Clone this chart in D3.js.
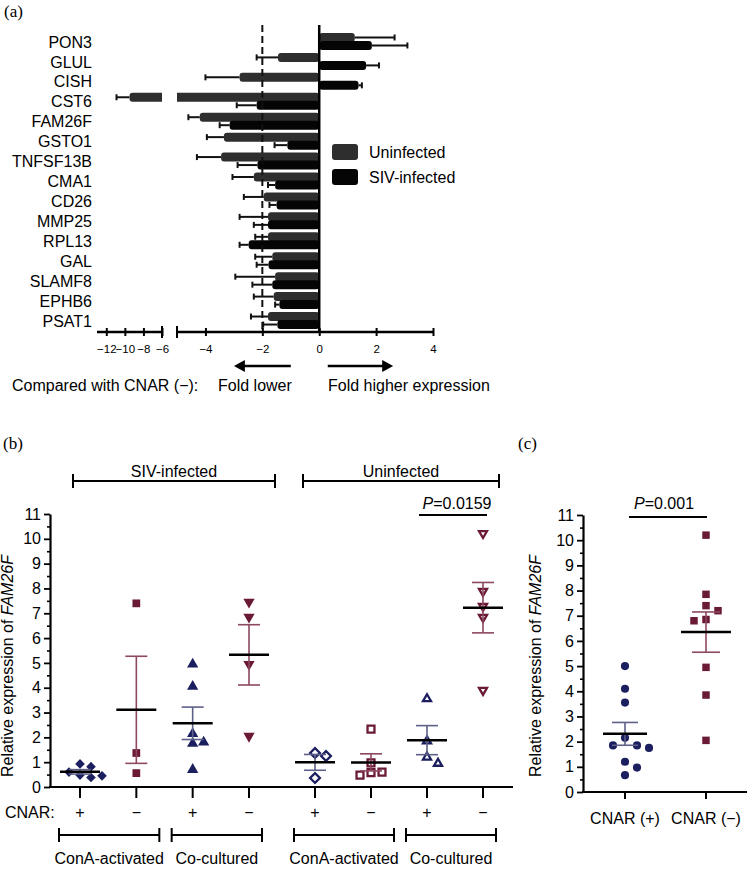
<!DOCTYPE html>
<html>
<head>
<meta charset="utf-8">
<script src="https://cdn.jsdelivr.net/npm/d3@7"></script>
<style>
  body { margin: 0; background: #fff; }
  svg { display: block; font-family: "Liberation Sans", Arial, Helvetica, sans-serif; }
</style>
</head>
<body>
<svg width="747" height="869"></svg>
<script>
// ---------- panel (a) data: fold change vs CNAR(-) ----------
var genes = ["PON3", "GLUL", "CISH", "CST6", "FAM26F", "GSTO1", "TNFSF13B", "CMA1",
             "CD26", "MMP25", "RPL13", "GAL", "SLAMF8", "EPHB6", "PSAT1"];
var uninfected    = [1.25, -1.45, -2.8, -9.5, -4.2, -3.35, -3.45, -2.3, -1.95, -1.8, -1.8, -1.65, -1.55, -1.6, -1.8];
var uninfectedErr = [1.4, 0.75, 1.2, 1.4, 0.4, 0.6, 0.85, 0.75, 0.7, 1.0, 0.45, 0.6, 1.4, 0.7, 0.6];
var sivInfected    = [1.85, 1.65, 1.38, -2.2, -3.15, -1.12, -2.17, -1.55, -1.5, -1.8, -2.48, -1.78, -1.65, -1.4, -1.47];
var sivInfectedErr = [1.25, 0.45, 0.12, 0.7, 0.35, 0.45, 0.7, 0.25, 0.25, 0.5, 0.32, 0.42, 0.7, 0.15, 0.5];
var axisTicksA = [-12, -10, -8, -6, -4, -2, 0, 2, 4];

// ---------- panel (b) data: relative expression of FAM26F ----------
var cnarSigns = ["+", "\u2212", "+", "\u2212", "+", "\u2212", "+", "\u2212"];
var groupValues = [
  [0.93, 0.82, 0.6, 0.48, 0.45, 0.38],       // SIV, ConA +
  [7.4, 1.37, 0.56],                         // SIV, ConA -
  [4.95, 4.05, 2.15, 1.8, 1.75, 0.7],        // SIV, co-cultured +
  [7.45, 6.85, 4.95, 2.05],                  // SIV, co-cultured -
  [1.37, 1.25, 0.36],                        // Uninf, ConA +
  [2.33, 0.97, 0.6, 0.58, 0.48],             // Uninf, ConA -
  [3.55, 1.85, 1.2, 0.95],                   // Uninf, co-cultured +
  [10.22, 7.89, 7.28, 6.84, 3.9]             // Uninf, co-cultured -
];
var infectionLabels = ["SIV-infected", "Uninfected"];
var cultureLabels = ["ConA-activated", "Co-cultured", "ConA-activated", "Co-cultured"];
var pValueB = "0.0159";

// ---------- panel (c) data ----------
var cnarCategories = ["CNAR (+)", "CNAR (\u2212)"];
var cnarPos = [5.0, 4.1, 3.55, 2.15, 1.85, 1.75, 1.85, 1.2, 0.97, 0.67];
var cnarNeg = [10.2, 7.85, 7.4, 7.2, 6.85, 6.8, 4.95, 3.85, 2.05];
var pValueC = "0.001";

var NAVY = "#1c1f5f", MAROON = "#6b1a35";
var NAVY_SEM = "#5d6088", MAROON_SEM = "#8d4862";
var svg = d3.select("svg");

function panelLetter(x, y, t) {
  svg.append("text").attr("x", x).attr("y", y).text(t)
    .attr("font-family", "'Liberation Serif', 'DejaVu Serif', serif").attr("font-size", 17);
}

// =================== panel (a) ===================
panelLetter(4, 17, "(a)");
var xA = d3.scaleLinear().domain([-13, -6, -5, 4]).range([97, 162, 177, 433]);
var yA = d3.scaleBand().domain(genes).range([32, 331]);
var gA = svg.append("g");

var rowsA = genes.map(function (g, i) {
  return [
    { gene: g, v: uninfected[i], e: uninfectedErr[i], off: -9, fill: "#2e2e2e" },
    { gene: g, v: sivInfected[i], e: sivInfectedErr[i], off: -1, fill: "#050505" }
  ];
});
var barsA = d3.merge([rowsA.map(function (r) { return r[0]; }), rowsA.map(function (r) { return r[1]; })]);

// error bars first, bars on top
gA.selectAll("g.err").data(barsA).join("g").attr("class", "err")
  .each(function (d) {
    var cy = yA(d.gene) + yA.bandwidth() / 2 + d.off + 4.5;
    var end = d.v + (d.v < 0 ? -d.e : d.e);
    var g = d3.select(this);
    g.append("line").attr("x1", xA(d.v)).attr("x2", xA(end)).attr("y1", cy).attr("y2", cy)
      .attr("stroke", "#111").attr("stroke-width", 2);
    g.append("line").attr("x1", xA(end)).attr("x2", xA(end)).attr("y1", cy - 3).attr("y2", cy + 3)
      .attr("stroke", "#111").attr("stroke-width", 2);
  });

gA.selectAll("rect.bar").data(barsA).join("rect").attr("class", "bar")
  .attr("x", function (d) { return Math.min(xA(0), xA(d.v)); })
  .attr("width", function (d) { return Math.abs(xA(d.v) - xA(0)); })
  .attr("y", function (d) { return yA(d.gene) + yA.bandwidth() / 2 + d.off; })
  .attr("height", 9).attr("rx", 3)
  .attr("fill", function (d) { return d.fill; });

// axis break gap
gA.append("rect").attr("x", xA(-6)).attr("width", xA(-5) - xA(-6))
  .attr("y", 25).attr("height", 320).attr("fill", "#fff");

// reference lines
gA.append("line").attr("x1", xA(-2)).attr("x2", xA(-2)).attr("y1", 25).attr("y2", 332)
  .attr("stroke", "#111").attr("stroke-width", 2).attr("stroke-dasharray", "7,4");
gA.append("line").attr("x1", xA(0)).attr("x2", xA(0)).attr("y1", 25).attr("y2", 332)
  .attr("stroke", "#000").attr("stroke-width", 2.5);

// gene labels
gA.selectAll("text.gene").data(genes).join("text").attr("class", "gene")
  .attr("x", 92).attr("y", function (d) { return yA(d) + yA.bandwidth() / 2; })
  .attr("dy", "0.35em").attr("text-anchor", "end").attr("font-size", 16).text(function (d) { return d; });

// x axis with break
var axA = gA.append("g").attr("transform", "translate(0,332)")
  .call(d3.axisBottom(xA).tickValues(axisTicksA).tickSize(4).tickPadding(9))
  .call(function (g) { g.select(".domain").remove(); })
  .call(function (g) { g.selectAll(".tick line").attr("y1", -4).attr("stroke-width", 2); })
  .call(function (g) { g.selectAll(".tick text").attr("font-size", 11.5).attr("font-family", "'Liberation Sans', Arial, sans-serif"); });
[[-13, -6], [-5, 4]].forEach(function (s) {
  axA.append("line").attr("x1", xA(s[0])).attr("x2", xA(s[1])).attr("stroke", "#000").attr("stroke-width", 2.5);
});
[-6, -5].forEach(function (v) {
  axA.append("line").attr("x1", xA(v)).attr("x2", xA(v)).attr("y1", -6).attr("y2", 6).attr("stroke", "#000").attr("stroke-width", 2);
});

// legend
var legA = [["Uninfected", "#2e2e2e"], ["SIV-infected", "#050505"]];
legA.forEach(function (l, i) {
  gA.append("rect").attr("x", 332).attr("y", 144 + i * 25).attr("width", 26).attr("height", 16)
    .attr("rx", 3).attr("fill", l[1]);
  gA.append("text").attr("x", 369).attr("y", 152 + i * 25).attr("dy", "0.35em")
    .attr("font-size", 16).text(l[0]);
});

// arrows + caption
function arrow(x1, x2, y) {
  var dir = x2 > x1 ? 1 : -1;
  gA.append("line").attr("x1", x1).attr("x2", x2 - dir * 8).attr("y1", y).attr("y2", y)
    .attr("stroke", "#000").attr("stroke-width", 2.5);
  gA.append("path").attr("d", "M" + x2 + "," + y + "L" + (x2 - dir * 11) + "," + (y - 6) + "L" + (x2 - dir * 11) + "," + (y + 6) + "Z");
}
arrow(xA(-1), xA(-3), 366);
arrow(xA(0.3), xA(2.6), 366);
gA.append("text").attr("x", 12).attr("y", 391).attr("font-size", 16).text("Compared with CNAR (\u2212):");
gA.append("text").attr("x", 218).attr("y", 391).attr("font-size", 16).text("Fold lower");
gA.append("text").attr("x", 328).attr("y", 391).attr("font-size", 16).text("Fold higher expression");

// =================== shared helpers for (b) and (c) ===================
function symbolPath(shape, size) {
  var t = shape === "square" ? d3.symbolSquare : shape === "circle" ? d3.symbolCircle :
          shape === "diamond" ? d3.symbolSquare : d3.symbolTriangle;
  return d3.symbol(t, size)();
}
function symbolRotate(shape) {
  return shape === "diamond" ? 45 : shape === "triangleDown" ? 180 : 0;
}
// simple deterministic beeswarm offsets
function swarm(vals, y, step) {
  var out = new Array(vals.length), placed = [];
  var order = vals.map(function (v, i) { return i; }).sort(function (a, b) { return vals[b] - vals[a]; });
  order.forEach(function (i) {
    var py = y(vals[i]);
    var cands = [0, 1, -1, 2, -2, 3, -3];
    for (var k = 0; k < cands.length; k++) {
      var dx = cands[k] * step;
      var ok = placed.every(function (p) { return Math.abs(p.dx - dx) >= step * 0.9 || Math.abs(p.y - py) >= step * 0.85; });
      if (ok) { out[i] = dx; placed.push({ dx: dx, y: py }); break; }
    }
  });
  return out;
}
function drawGroup(g, vals, cx, y, st, step, meanHalf, capHalf) {
  var offs = swarm(vals, y, step);
  g.selectAll(null).data(vals).join("path")
    .attr("d", symbolPath(st.shape, st.size))
    .attr("transform", function (d, i) {
      return "translate(" + (cx + offs[i]) + "," + y(d) + ") rotate(" + symbolRotate(st.shape) + ")";
    })
    .attr("fill", st.open ? "#fff" : st.color)
    .attr("stroke", st.open ? st.color : "none")
    .attr("stroke-width", st.open ? 2.3 : 0);
  var m = d3.mean(vals), sem = d3.deviation(vals) / Math.sqrt(vals.length);
  var semCol = st.color === NAVY ? NAVY_SEM : MAROON_SEM;
  g.append("line").attr("x1", cx).attr("x2", cx).attr("y1", y(m - sem)).attr("y2", y(m + sem))
    .attr("stroke", semCol).attr("stroke-width", 1.6);
  [m - sem, m + sem].forEach(function (v) {
    g.append("line").attr("x1", cx - capHalf).attr("x2", cx + capHalf).attr("y1", y(v)).attr("y2", y(v))
      .attr("stroke", semCol).attr("stroke-width", 1.6);
  });
  g.append("line").attr("x1", cx - meanHalf).attr("x2", cx + meanHalf).attr("y1", y(m)).attr("y2", y(m))
    .attr("stroke", "#000").attr("stroke-width", 2.5);
}
function yAxis(g, y, x) {
  var ax = g.append("g").attr("transform", "translate(" + x + ",0)");
  ax.append("g").call(d3.axisLeft(y).tickValues(d3.range(0.5, 11, 1)).tickSize(3).tickFormat("").tickSizeOuter(0))
    .call(function (s) { s.select(".domain").remove(); s.selectAll(".tick line").attr("stroke-width", 1.6); });
  ax.append("g").call(d3.axisLeft(y).tickValues(d3.range(0, 12)).tickSize(6).tickPadding(3).tickSizeOuter(0))
    .call(function (s) {
      s.select(".domain").attr("stroke-width", 2.2);
      s.selectAll(".tick line").attr("stroke-width", 1.8);
      s.selectAll(".tick text").attr("font-size", 16).attr("font-family", "'Liberation Sans', Arial, sans-serif").attr("fill", "#000");
    });
}
function yTitle(g, x, y) {
  var t = g.append("text").attr("transform", "translate(" + x + "," + y + ") rotate(-90)")
    .attr("text-anchor", "middle").attr("font-size", 16);
  t.append("tspan").text("Relative expression of ");
  t.append("tspan").attr("font-style", "italic").text("FAM26F");
}
function pLabel(g, cx, y, p) {
  var t = g.append("text").attr("x", cx).attr("y", y).attr("text-anchor", "middle").attr("font-size", 16);
  t.append("tspan").attr("font-style", "italic").text("P");
  t.append("tspan").text("=" + p);
}
function bracket(g, x1, x2, y) {
  g.append("line").attr("x1", x1).attr("x2", x2).attr("y1", y).attr("y2", y).attr("stroke", "#000").attr("stroke-width", 2);
  [x1, x2].forEach(function (x) {
    g.append("line").attr("x1", x).attr("x2", x).attr("y1", y - 7).attr("y2", y + 7).attr("stroke", "#000").attr("stroke-width", 2);
  });
}

// =================== panel (b) ===================
panelLetter(3, 449, "(b)");
var gB = svg.append("g");
var xB = d3.scaleLinear().domain([0, 3, 4, 7]).range([80, 249, 315, 483]);
var yB = d3.scaleLinear().domain([0, 11]).range([787, 514]);
var stylesB = [
  { shape: "diamond", size: 46, color: NAVY, open: false },
  { shape: "square", size: 60, color: MAROON, open: false },
  { shape: "triangle", size: 55, color: NAVY, open: false },
  { shape: "triangleDown", size: 55, color: MAROON, open: false },
  { shape: "diamond", size: 48, color: NAVY, open: true },
  { shape: "square", size: 48, color: MAROON, open: true },
  { shape: "triangle", size: 28, color: NAVY, open: true },
  { shape: "triangleDown", size: 28, color: MAROON, open: true }
];
groupValues.forEach(function (vals, i) {
  drawGroup(gB.append("g"), vals, xB(i), yB, stylesB[i], 11, 20, 11);
});
yAxis(gB, yB, 50);
gB.append("line").attr("x1", 49).attr("x2", 513).attr("y1", yB(0)).attr("y2", yB(0))
  .attr("stroke", "#000").attr("stroke-width", 2.2);
cnarSigns.forEach(function (s, i) {
  gB.append("line").attr("x1", xB(i)).attr("x2", xB(i)).attr("y1", yB(0)).attr("y2", yB(0) + 11)
    .attr("stroke", "#000").attr("stroke-width", 2);
  gB.append("text").attr("x", xB(i)).attr("y", 812).attr("dy", "0.35em").attr("text-anchor", "middle")
    .attr("font-size", 16).text(s);
});
gB.append("text").attr("x", 5).attr("y", 812).attr("dy", "0.35em").attr("font-size", 16).text("CNAR:");
yTitle(gB, 13, 666);

// top brackets: infection status
[[xB(0) - 7, xB(3) + 26], [xB(4) - 12, xB(7) + 16]].forEach(function (b, i) {
  bracket(gB, b[0], b[1], 481);
  gB.append("text").attr("x", (b[0] + b[1]) / 2).attr("y", 477).attr("text-anchor", "middle")
    .attr("font-size", 16).text(infectionLabels[i]);
});
// bottom brackets: culture type
[[0, 1], [2, 3], [4, 5], [6, 7]].forEach(function (p, i) {
  var x1 = xB(p[0]) - 21, x2 = xB(p[1]) + (i % 2 ? 13 : 23);
  bracket(gB, x1, x2, 835);
  gB.append("text").attr("x", (x1 + x2) / 2).attr("y", 858).attr("dy", "0.35em").attr("text-anchor", "middle")
    .attr("font-size", 16).text(cultureLabels[i]);
});
// p-value
gB.append("line").attr("x1", xB(6) - 8).attr("x2", xB(7) + 4).attr("y1", 515).attr("y2", 515)
  .attr("stroke", "#000").attr("stroke-width", 2);
pLabel(gB, (xB(6) + xB(7)) / 2 + 2, 509, pValueB);

// =================== panel (c) ===================
panelLetter(518, 449, "(c)");
var gC = svg.append("g");
var xC = d3.scalePoint().domain(cnarCategories).range([625, 706]);
var yC = d3.scaleLinear().domain([0, 11]).range([792, 515]);
drawGroup(gC.append("g"), cnarPos, xC(cnarCategories[0]), yC, { shape: "circle", size: 52, color: NAVY, open: false }, 12, 22, 13);
drawGroup(gC.append("g"), cnarNeg, xC(cnarCategories[1]), yC, { shape: "square", size: 56, color: MAROON, open: false }, 12, 25, 14);
yAxis(gC, yC, 583);
gC.append("line").attr("x1", 582).attr("x2", 747).attr("y1", yC(0)).attr("y2", yC(0))
  .attr("stroke", "#000").attr("stroke-width", 2.2);
cnarCategories.forEach(function (c) {
  gC.append("line").attr("x1", xC(c)).attr("x2", xC(c)).attr("y1", yC(0)).attr("y2", yC(0) + 7)
    .attr("stroke", "#000").attr("stroke-width", 2);
  gC.append("text").attr("x", xC(c)).attr("y", 818).attr("dy", "0.35em").attr("text-anchor", "middle")
    .attr("font-size", 16).text(c);
});
yTitle(gC, 541, 666);
gC.append("line").attr("x1", 629).attr("x2", 707).attr("y1", 517).attr("y2", 517)
  .attr("stroke", "#000").attr("stroke-width", 2);
pLabel(gC, 664, 509, pValueC);
</script>
</body>
</html>
